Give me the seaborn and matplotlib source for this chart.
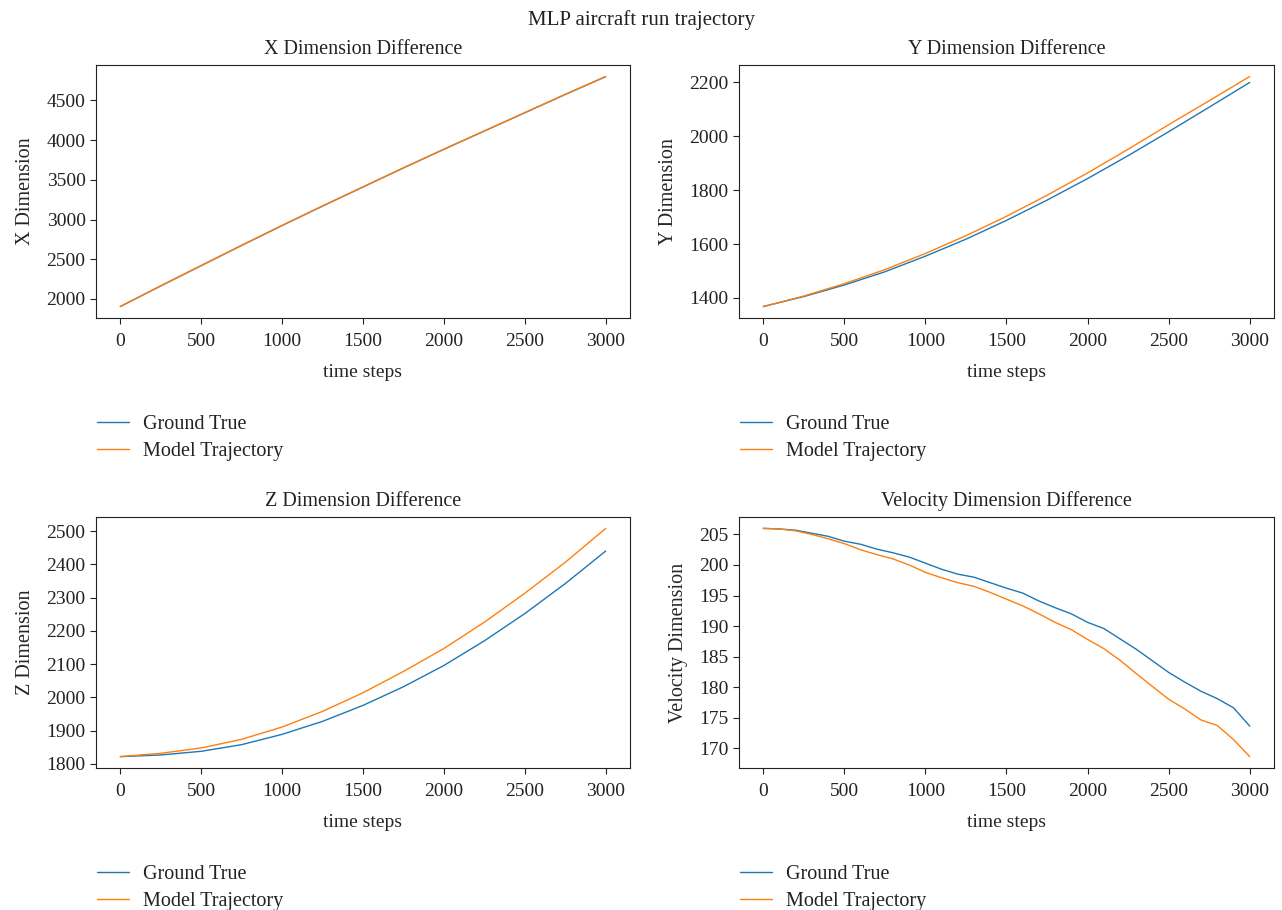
import numpy as np
import pandas as pd
import matplotlib
matplotlib.use("Agg")
import matplotlib.pyplot as plt
import seaborn as sns

# time steps for the smooth position curves (every 250) and velocity (every 100)
steps = [0, 250, 500, 750, 1000, 1250, 1500, 1750, 2000, 2250, 2500, 2750, 3000]
vel_steps = list(range(0, 3001, 100))

# X dimension
x_true = [1905, 2165, 2420, 2675, 2925, 3170, 3410, 3650, 3885, 4115, 4345, 4575, 4800]
x_model = [1905, 2166, 2421, 2676, 2927, 3172, 3412, 3652, 3887, 4117, 4347, 4577, 4802]

# Y dimension
y_true = [1368, 1405, 1448, 1497, 1555, 1618, 1688, 1763, 1843, 1928, 2017, 2108, 2200]
y_model = [1368, 1407, 1453, 1505, 1565, 1631, 1703, 1781, 1864, 1952, 2043, 2132, 2222]

# Z dimension
z_true = [1822, 1827, 1838, 1858, 1889, 1928, 1976, 2032, 2096, 2170, 2252, 2342, 2440]
z_model = [1822, 1832, 1848, 1874, 1911, 1958, 2014, 2078, 2147, 2226, 2313, 2406, 2508]

# Velocity
v_true = [206.0, 205.9, 205.7, 205.2, 204.7, 203.9, 203.4, 202.6, 202.0, 201.3,
          200.3, 199.3, 198.5, 198.0, 197.1, 196.2, 195.4, 194.1, 193.0, 192.0,
          190.6, 189.6, 187.9, 186.2, 184.3, 182.4, 180.8, 179.3, 178.1, 176.6, 173.6]
v_model = [206.0, 205.9, 205.6, 205.0, 204.3, 203.5, 202.5, 201.7, 201.0, 200.0,
           198.8, 197.9, 197.1, 196.5, 195.5, 194.4, 193.3, 192.0, 190.6, 189.4,
           187.8, 186.3, 184.4, 182.2, 180.1, 178.0, 176.4, 174.6, 173.7, 171.4, 168.6]

x_ticks = [2000, 2500, 3000, 3500, 4000, 4500]
y_ticks = [1400, 1600, 1800, 2000, 2200]
z_ticks = [1800, 1900, 2000, 2100, 2200, 2300, 2400, 2500]
v_ticks = [170, 175, 180, 185, 190, 195, 200, 205]

sns.set_theme(style="ticks")
plt.rcParams['font.family'] = ['Liberation Serif', 'DejaVu Serif']
plt.rcParams['axes.linewidth'] = 0.8
plt.rcParams['text.color'] = '#222222'
plt.rcParams['xtick.color'] = '#222222'
plt.rcParams['ytick.color'] = '#222222'

fig = plt.figure(figsize=(12.82, 9.10), dpi=100)
fig.suptitle("MLP aircraft run trajectory", fontsize=15, y=0.989)

positions = [
    [0.0749, 0.6505, 0.4165, 0.2781],
    [0.5764, 0.6505, 0.4174, 0.2781],
    [0.0749, 0.1560, 0.4165, 0.2759],
    [0.5764, 0.1560, 0.4174, 0.2759],
]
panels = [
    ("X Dimension Difference", "X Dimension", steps, x_true, x_model, x_ticks),
    ("Y Dimension Difference", "Y Dimension", steps, y_true, y_model, y_ticks),
    ("Z Dimension Difference", "Z Dimension", steps, z_true, z_model, z_ticks),
    ("Velocity Dimension Difference", "Velocity Dimension", vel_steps, v_true, v_model, v_ticks),
]

for pos, (title, ylabel, t, gt, md, yt) in zip(positions, panels):
    ax = fig.add_axes(pos)
    sns.lineplot(x=t, y=gt, ax=ax, color='#1f77b4', linewidth=1.0, label='Ground True')
    sns.lineplot(x=t, y=md, ax=ax, color='#ff7f0e', linewidth=1.0, label='Model Trajectory')
    ax.set_title(title, fontsize=14.5, pad=8)
    ax.set_xlabel("time steps", fontsize=14, labelpad=10)
    ax.set_ylabel(ylabel, fontsize=14.5, labelpad=8)
    ax.set_xticks([0, 500, 1000, 1500, 2000, 2500, 3000])
    ax.set_yticks(yt)
    ax.tick_params(axis='x', pad=7)
    ax.tick_params(labelsize=14, length=4, width=0.8)
    for s in ax.spines.values():
        s.set_color('#222222')
    ax.legend(loc='upper left', bbox_to_anchor=(-0.013, -0.352), frameon=False,
              fontsize=14.5, borderaxespad=0, handlelength=1.6,
              handletextpad=0.7, labelspacing=0.4)

fig.savefig("out.png", dpi=100)
